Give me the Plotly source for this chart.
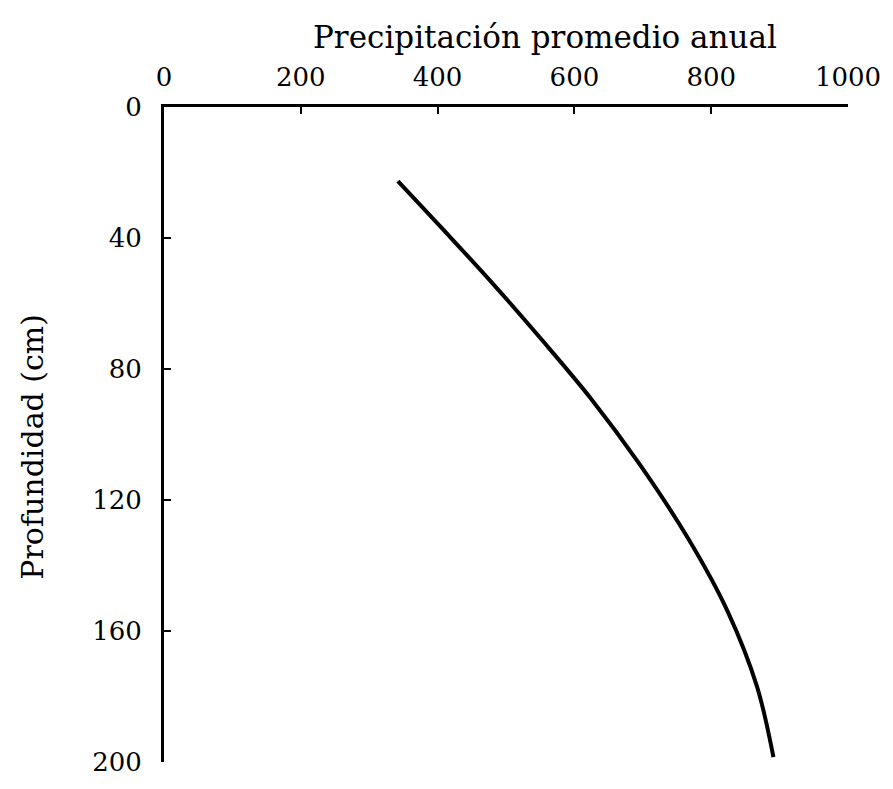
import plotly.graph_objects as go

# Data
precipitacion = [342, 409, 481, 552, 624, 695, 767, 824, 867, 891]
profundidad = [22.6, 37.6, 54, 71, 89, 109, 132, 154, 177, 198.5]

x_ticks = [0, 200, 400, 600, 800, 1000]
y_ticks = [0, 40, 80, 120, 160, 200]

FONT = "DejaVu Serif"

fig = go.Figure()
fig.add_trace(go.Scatter(
    x=precipitacion, y=profundidad, mode="lines",
    line=dict(color="black", width=4, shape="spline", smoothing=1.0),
    showlegend=False, hoverinfo="skip",
))

fig.update_layout(
    width=893, height=789,
    margin=dict(l=164, r=30, t=107, b=17),
    paper_bgcolor="white", plot_bgcolor="white",
    font=dict(family=FONT, color="black", size=26),
    xaxis=dict(
        side="top", range=[0, 1000], tickvals=x_ticks,
        ticktext=[str(v) for v in x_ticks],
        showgrid=False, zeroline=False,
        showline=True, linecolor="black", linewidth=3,
        ticks="inside", ticklen=7, tickwidth=2, tickcolor="black",
        ticklabelstandoff=8, ticklabeloverflow="allow",
        tickfont=dict(family=FONT, size=26),
    ),
    yaxis=dict(
        range=[200, 0], tickvals=y_ticks,
        ticktext=[str(v) for v in y_ticks],
        showgrid=False, zeroline=False,
        showline=True, linecolor="black", linewidth=3,
        ticks="inside", ticklen=7, tickwidth=2, tickcolor="black",
        ticklabelstandoff=14, ticklabeloverflow="allow",
        tickfont=dict(family=FONT, size=26),
    ),
    annotations=[
        dict(text="Precipitación promedio anual", xref="paper", yref="paper",
             x=(553 - 164) / 699, y=1 + (107 - 36) / 665, xanchor="center", yanchor="middle",
             showarrow=False, font=dict(family=FONT, size=31)),
        dict(text="Profundidad (cm)", xref="paper", yref="paper",
             x=-(164 - 30) / 699, y=1 - (452 - 107) / 665, xanchor="center", yanchor="middle",
             textangle=-90, showarrow=False, font=dict(family=FONT, size=30)),
    ],
)

fig.write_html("out.html")
